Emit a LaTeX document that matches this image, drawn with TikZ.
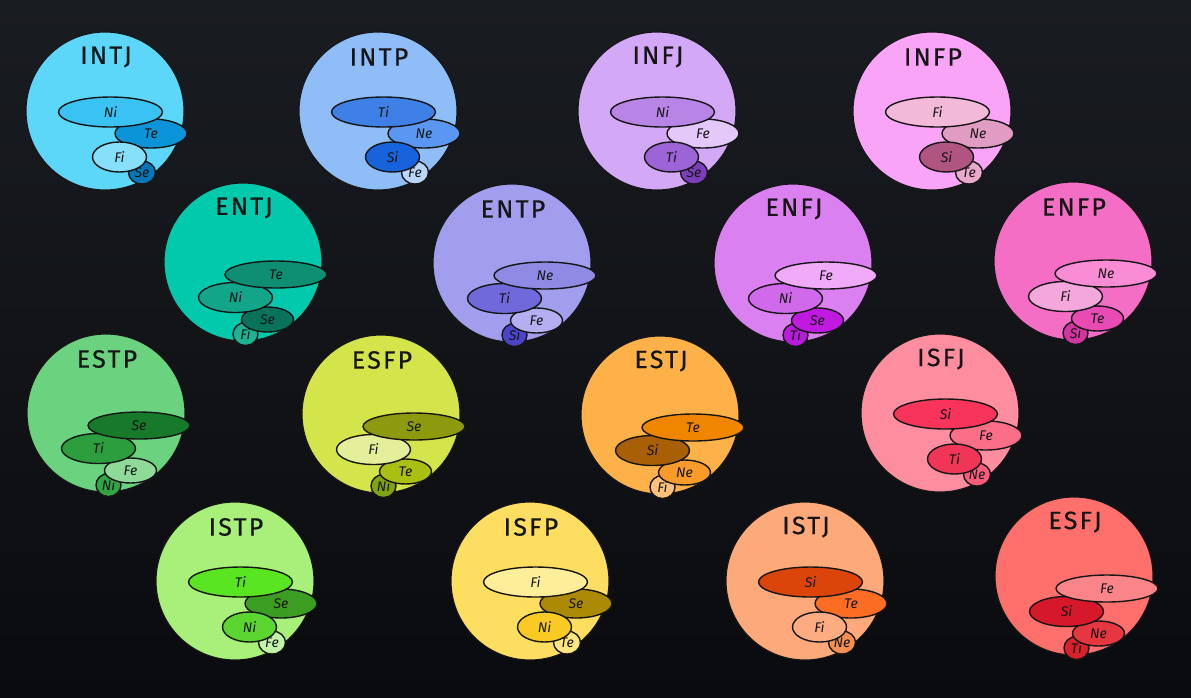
\documentclass[tikz,border=0pt]{standalone}
\usepackage{xcolor}
\usepackage{fontspec}
\setmainfont{Fira Sans}
\newfontfamily\titlefont[LetterSpace=9,FakeBold=0.6]{Fira Sans}
\usetikzlibrary{shapes.geometric}

\definecolor{bgtop}{HTML}{191C21}
\definecolor{bgbot}{HTML}{0A0B0E}
\definecolor{ink}{HTML}{161616}

\begin{document}
\begin{tikzpicture}[x=1pt,y=-1pt,
		typecirc/.style={circle,draw=ink,line width=1.1pt,minimum size=158pt,inner sep=0pt},
		ttl/.style={text=ink,font=\titlefont\fontsize{25}{25}\selectfont,inner sep=0pt},
		fn/.style={ellipse,draw=ink,line width=1.4pt,inner sep=0pt,text=ink,
				font=\itshape\fontsize{14}{14}\selectfont},
		% introvert layout: dominant in the middle
		I/.style={
				s1/.style={at={(5.5,1)},minimum width=104pt,minimum height=30pt},
				s2/.style={at={(46,22.5)},minimum width=72pt,minimum height=29pt},
				s3/.style={at={(14.5,46)},minimum width=54pt,minimum height=30pt},
				s4/.style={at={(37,61.5)},minimum width=27pt,minimum height=23pt},
			},
		% extravert layout: dominant sticks out
		E/.style={
				s1/.style={at={(33,12.5)},minimum width=102pt,minimum height=27pt},
				s2/.style={at={(-7.5,35.5)},minimum width=74pt,minimum height=30pt},
				s3/.style={at={(24.5,57.5)},minimum width=52pt,minimum height=25pt},
				s4/.style={at={(2.5,72)},minimum width=25pt,minimum height=23pt},
			},
	]
	\fill[top color=bgtop,bottom color=bgbot] (0,0) rectangle (1191,697);
	\useasboundingbox (0,0) rectangle (1191,697);
	%
	\foreach \nm/\px/\py/\ly/\cbg/\fa/\ca/\fb/\cb/\fc/\ccc/\fd/\cd in {
			INTJ/105/111/I/5CD6F9/Ni/3AC3F2/Te/0B95D8/Fi/86E0F9/Se/0577B8,
			INTP/378/111/I/8EBDF8/Ti/3F80E6/Ne/5A97F2/Si/1763DB/Fe/B9D6F9,
			INFJ/657/111/I/D3A8F7/Ni/B884E6/Fe/E3C8F9/Ti/9C64D7/Se/7B3EBB,
			INFP/932/111/I/F9A4F6/Fi/F2BAD8/Ne/E19CC3/Si/AF5580/Te/E9A9CA,
			ENTJ/243/262/E/01C9AC/Te/0E8E72/Ni/13A58A/Se/08735A/Fi/1DB291,
			ENTP/512/263/E/A29DED/Ne/8F8AE4/Ti/6F69DB/Fe/B3AFF1/Si/4C44C8,
			ENFJ/793/263/E/DB80F0/Fe/F0AAF7/Ni/D069EA/Se/C01AE0/Ti/B61CD9,
			ENFP/1073/261/E/F56EC5/Ne/F98CD4/Fi/F4A7DA/Te/E94BB5/Si/D2359E,
			ESTP/106/413/E/6BD27F/Se/177A2A/Ti/2D9E3E/Fe/8FDA99/Ni/33A445,
			ESFP/381/414/E/D4E44B/Se/8D9A0E/Fi/E5EF9B/Te/A9BF11/Ni/80A315,
			ESTJ/660/415/E/FDB148/Te/F08600/Si/A85F05/Ne/F99B2B/Fi/FDC17B,
			ISFJ/940/413/I/FD8D9F/Si/F8345B/Fe/FB6E87/Ti/F03657/Ne/FA5D7C,
			ISTP/235/581/I/A9F07B/Ti/59E521/Se/3B9D21/Ni/5BD631/Fe/C3F3A9,
			ISFP/530/581/I/FEDE61/Fi/FFEE99/Se/AB8B06/Ni/F9CA23/Te/FDE680,
			ISTJ/805/581/I/FDA979/Si/DB4509/Te/FC6C22/Fi/FDAB81/Ne/F48F52,
			ESFJ/1074/576/E/FF706C/Fe/FA8589/Si/D6182B/Ne/E63741/Ti/D9202D} {
		\definecolor{colbg}{HTML}{\cbg}
		\definecolor{coldom}{HTML}{\ca}
		\definecolor{colaux}{HTML}{\cb}
		\definecolor{colter}{HTML}{\ccc}
		\definecolor{colinf}{HTML}{\cd}
		\begin{scope}[shift={(\px,\py)},\ly]
			\node[typecirc,fill=colbg] (\nm) at (0,0) {};
			\node[ttl] (\nm-t) at (1,-54) {\nm};
			\node[fn,s4,fill=colinf] (\nm-4) {\fd};
			\if\ly I
				\node[fn,s2,fill=colaux] (\nm-2) {\fb};
				\node[fn,s3,fill=colter] (\nm-3) {\fc};
			\else
				\node[fn,s3,fill=colter] (\nm-3) {\fc};
				\node[fn,s2,fill=colaux] (\nm-2) {\fb};
			\fi
			\node[fn,s1,fill=coldom] (\nm-1) {\fa};
		\end{scope}
	}
\end{tikzpicture}
\end{document}
